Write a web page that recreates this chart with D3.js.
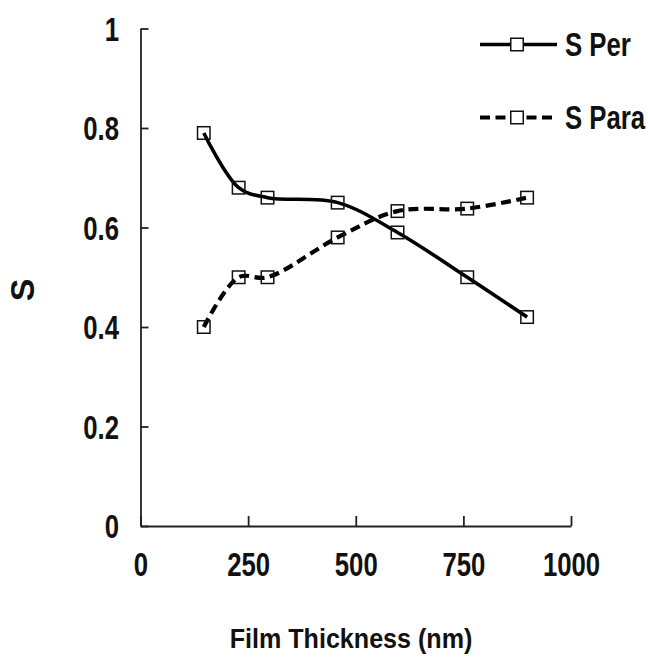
<!DOCTYPE html>
<html>
<head>
<meta charset="utf-8">
<script src="https://cdn.jsdelivr.net/npm/d3@7/dist/d3.min.js"></script>
<style>
  html, body { margin: 0; padding: 0; background: #fff; }
  text { font-family: "Liberation Sans", Arial, sans-serif; font-weight: bold; fill: #111; }
</style>
</head>
<body>
<div id="chart"></div>
<script>
// film thickness (nm) and order parameter S
var thickness = [147, 228, 295, 458, 597, 759, 898];
var sPer  = [0.79, 0.68, 0.66, 0.65, 0.59, 0.50, 0.42];
var sPara = [0.40, 0.50, 0.50, 0.58, 0.633, 0.638, 0.66];
var xTicks = [0, 250, 500, 750, 1000];
var yTicks = [0, 0.2, 0.4, 0.6, 0.8, 1];
var seriesNames = ["S Per", "S Para"];

var width = 648, height = 657;
var squeeze = 0.78; // tick text in the picture is narrow

var svg = d3.select("#chart").append("svg")
  .attr("width", width)
  .attr("height", height);

var x = d3.scaleLinear().domain([0, 1000]).range([140.5, 571]);
var y = d3.scaleLinear().domain([0, 1]).range([526, 28.5]);

// axes, ticks pointing inward
var xAxis = svg.append("g")
  .attr("transform", "translate(0," + y(0) + ")")
  .call(d3.axisBottom(x).tickValues(xTicks).tickSizeInner(-10).tickSizeOuter(0).tickFormat(d3.format("d")));

var yAxis = svg.append("g")
  .attr("transform", "translate(" + x(0) + ",0)")
  .call(d3.axisLeft(y).tickValues(yTicks).tickSizeInner(-8).tickSizeOuter(0).tickFormat(d3.format("~g")));

svg.selectAll(".domain, .tick line")
  .attr("stroke", "#222")
  .attr("stroke-width", 1.8);

xAxis.selectAll(".tick text")
  .attr("x", 0).attr("y", 0).attr("dy", null)
  .attr("text-anchor", "middle")
  .attr("font-size", 33)
  .attr("transform", "translate(0,50) scale(" + squeeze + ",1)")
  .attr("fill", "#111");

yAxis.selectAll(".tick text")
  .attr("x", 0).attr("dy", "0.36em")
  .attr("text-anchor", "end")
  .attr("font-size", 33)
  .attr("transform", "translate(-21.5,0) scale(" + squeeze + ",1)")
  .attr("fill", "#111");

// axis titles
svg.append("text")
  .attr("text-anchor", "middle")
  .attr("font-size", 27)
  .attr("transform", "translate(351,648) scale(0.93,1)")
  .text("Film Thickness (nm)");

svg.append("text")
  .attr("text-anchor", "middle")
  .attr("font-size", 34)
  .attr("transform", "translate(34,290) rotate(-90)")
  .text("S");

// series
var line = d3.line()
  .x(function(d) { return x(d[0]); })
  .y(function(d) { return y(d[1]); })
  .curve(d3.curveCatmullRom.alpha(0.5));

var series = [
  {name: seriesNames[0], values: d3.zip(thickness, sPer), dash: null, w: 3.6},
  {name: seriesNames[1], values: d3.zip(thickness, sPara), dash: "10,5.5", w: 4.2}
];

var box = 12.5;

series.forEach(function(s) {
  svg.append("path")
    .datum(s.values)
    .attr("d", line)
    .attr("fill", "none")
    .attr("stroke", "#000")
    .attr("stroke-width", s.w)
    .attr("stroke-dasharray", s.dash);

  svg.selectAll(null)
    .data(s.values)
    .enter().append("rect")
    .attr("x", function(d) { return x(d[0]) - box / 2; })
    .attr("y", function(d) { return y(d[1]) - box / 2; })
    .attr("width", box)
    .attr("height", box)
    .attr("fill", "none")
    .attr("stroke", "#111")
    .attr("stroke-width", 1.5);
});

// legend
var legend = svg.append("g");
series.forEach(function(s, i) {
  var ly = 44.5 + i * 73;
  legend.append("line")
    .attr("x1", 480).attr("x2", 557)
    .attr("y1", ly).attr("y2", ly)
    .attr("stroke", "#000")
    .attr("stroke-width", s.w)
    .attr("stroke-dasharray", s.dash);
  legend.append("rect")
    .attr("x", 517 - box / 2).attr("y", ly - box / 2)
    .attr("width", box).attr("height", box)
    .attr("fill", "#fff")
    .attr("stroke", "#111")
    .attr("stroke-width", 1.5);
  legend.append("text")
    .attr("font-size", 33)
    .attr("transform", "translate(565," + (ly + 11.5) + ") scale(" + squeeze + ",1)")
    .text(s.name);
});
</script>
</body>
</html>
